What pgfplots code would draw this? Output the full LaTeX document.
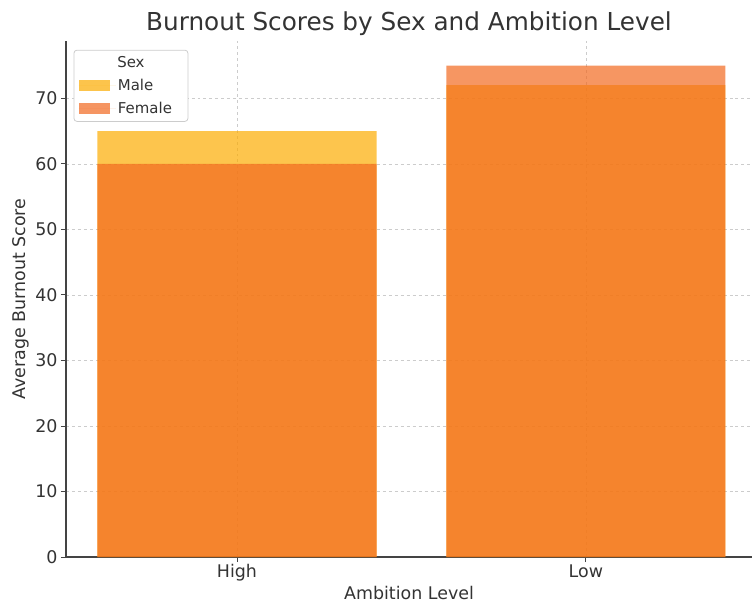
\documentclass[border=0pt]{standalone}
\usepackage{pgfplots}
\pgfplotsset{compat=1.18}
\usepackage{fontspec}
\setmainfont{DejaVu Sans}
\definecolor{malec}{RGB}{252,172,1}
\definecolor{femalec}{RGB}{242,105,32}
\definecolor{axc}{RGB}{68,68,68}
\definecolor{txtc}{RGB}{51,51,51}
\definecolor{gridc}{RGB}{204,204,204}
\begin{document}
\begin{tikzpicture}
\path[use as bounding box] (-66bp,-50bp) rectangle (686bp,557bp);
\begin{axis}[
  scale only axis,
  width=686bp, height=516bp,
  at={(0,0)}, anchor=south west,
  xmin=-0.49, xmax=1.476,
  ymin=0, ymax=78.75,
  axis x line*=bottom, axis y line*=left,
  axis line style={axc, line width=1.1pt, -},
  xtick={0,1}, xticklabels={High,Low},
  ytick={0,10,20,30,40,50,60,70},
  tick align=outside,
  major tick length=5bp,
  tick style={axc, line width=0.9pt},
  grid=major,
  grid style={gridc, dashed, line width=0.6pt},
  /pgf/number format/assume math mode=true,
  ticklabel style={font=\fontsize{17.5}{20}\selectfont, text=txtc},
  xticklabel style={yshift=1bp},
  xlabel={Ambition Level},
  ylabel={Average Burnout Score},
  label style={font=\fontsize{17.5}{20}\selectfont, text=txtc},
  xlabel style={yshift=2bp},
  ylabel style={yshift=-1bp},
  title={Burnout Scores by Sex and Ambition Level},
  title style={font=\fontsize{24.8}{28}\selectfont, text=txtc, yshift=-4bp},
  legend cell align=left,
  legend style={at={(0.011,0.983)}, anchor=north west,
    draw=gridc, rounded corners=3bp, line width=0.8pt,
    font=\fontsize{15}{18}\selectfont, text=txtc,
    row sep=6.5bp, inner xsep=5bp, inner ysep=4bp},
  legend image code/.code={\path (0bp,0bp) -- (37bp,0bp);\fill[#1, draw=none, sharp corners] (0bp,-5.5bp) rectangle (31bp,5.5bp);},
]
\addlegendimage{empty legend}
\addlegendentry{\hspace{-37bp}\makebox[100bp][c]{Sex}}
\addplot[ybar, bar width=0.8, fill=malec, fill opacity=0.7, draw=none] coordinates {(0,65) (1,72)};
\addlegendentry{Male}
\addplot[ybar, bar width=0.8, fill=femalec, fill opacity=0.7, draw=none] coordinates {(0,60) (1,75)};
\addlegendentry{Female}
\end{axis}
\end{tikzpicture}
\end{document}
